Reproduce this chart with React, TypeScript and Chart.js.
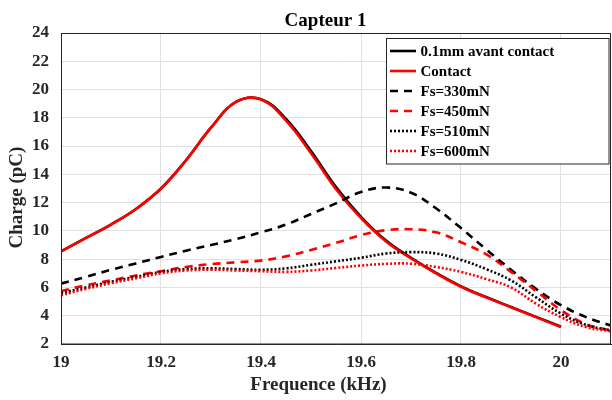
import React, { useEffect, useRef } from "react";
import { Chart, registerables } from "chart.js";

Chart.register(...registerables);

const title = "Capteur 1";
const xTitle = "Frequence (kHz)";
const yTitle = "Charge (pC)";

const seriesLabels = [
  "0.1mm avant contact",
  "Contact",
  "Fs=330mN",
  "Fs=450mN",
  "Fs=510mN",
  "Fs=600mN",
];

// frequencies (kHz) for the two solid curves
const contactFreq = [
  19.0, 19.05, 19.1, 19.15, 19.2, 19.25, 19.3, 19.35, 19.4, 19.45, 19.5,
  19.55, 19.6, 19.65, 19.7, 19.75, 19.8, 19.85, 19.9, 19.95, 20.0,
];
const avantContact = [
  8.55, 9.5, 10.45, 11.55, 13.0, 15.0, 17.3, 19.12, 19.32, 17.92, 15.65,
  13.1, 11.0, 9.32, 8.1, 7.03, 6.08, 5.32, 4.62, 3.92, 3.22,
];
const contact = [
  8.55, 9.5, 10.45, 11.55, 13.0, 15.0, 17.3, 19.12, 19.3, 17.8, 15.5,
  12.95, 10.9, 9.25, 8.05, 7.0, 6.05, 5.3, 4.6, 3.9, 3.2,
];

// frequencies (kHz) for the force curves
const freq = [
  19.0, 19.05, 19.1, 19.15, 19.2, 19.25, 19.3, 19.35, 19.4, 19.45, 19.5, 19.55,
  19.6, 19.65, 19.7, 19.75, 19.8, 19.85, 19.9, 19.95, 20.0, 20.05, 20.1,
];
const fs330 = [
  6.27, 6.75, 7.25, 7.7, 8.16, 8.6, 9.0, 9.42, 9.9, 10.45, 11.2, 11.95, 12.75,
  13.07, 12.7, 11.6, 10.2, 8.7, 7.25, 5.9, 4.75, 3.9, 3.3,
];
const fs450 = [
  5.75, 6.15, 6.5, 6.85, 7.15, 7.45, 7.65, 7.78, 7.9, 8.2, 8.65, 9.15, 9.7,
  10.05, 10.12, 9.9, 9.2, 8.35, 7.1, 5.75, 4.4, 3.4, 2.95,
];
const fs510 = [
  5.6, 6.0, 6.4, 6.75, 7.1, 7.3, 7.35, 7.3, 7.25, 7.35, 7.6, 7.85, 8.1, 8.4,
  8.5, 8.4, 7.95, 7.3, 6.5, 5.3, 4.15, 3.35, 2.95,
];
const fs600 = [
  5.45, 5.9, 6.3, 6.65, 7.0, 7.2, 7.25, 7.2, 7.15, 7.1, 7.2, 7.38, 7.55, 7.67,
  7.68, 7.45, 7.1, 6.6, 6.0, 4.85, 3.9, 3.2, 2.9,
];

const xMin = 19;
const xMax = 20.1;
const yMin = 2;
const yMax = 24;

const FONT = "'Liberation Serif', 'DejaVu Serif', serif";
const AXIS = "#262626";

const pts = (xs: number[], ys: number[]) => xs.map((x, i) => ({ x, y: ys[i] }));

const decorPlugin = {
  id: "decor",
  afterDraw(chart: any) {
    const { ctx, chartArea } = chart;
    const { left, top, right, bottom } = chartArea;
    ctx.save();
    // box
    ctx.strokeStyle = AXIS;
    ctx.lineWidth = 1;
    ctx.setLineDash([]);
    ctx.strokeRect(left + 0.5, top + 0.5, right - left - 1, bottom - top - 0.5);

    // title
    ctx.fillStyle = "#000";
    ctx.font = `bold 19px ${FONT}`;
    ctx.textAlign = "center";
    ctx.textBaseline = "alphabetic";
    ctx.fillText(title, 325.5, 26);

    // x title
    ctx.fillStyle = AXIS;
    ctx.font = `bold 19px ${FONT}`;
    ctx.textBaseline = "middle";
    ctx.fillText(xTitle, 318.5, 385);

    // y title
    ctx.save();
    ctx.translate(17.5, 197.5);
    ctx.rotate(-Math.PI / 2);
    ctx.fillText(yTitle, 0, 0);
    ctx.restore();

    // legend
    const lx = right - 224.5;
    const ly = top + 5.5;
    const lw = 222.5;
    const lh = 125.5;
    ctx.fillStyle = "#fff";
    ctx.fillRect(lx, ly, lw, lh);
    ctx.strokeStyle = AXIS;
    ctx.lineWidth = 1;
    ctx.strokeRect(lx, ly, lw, lh);
    ctx.font = `bold 15px ${FONT}`;
    ctx.textAlign = "left";
    ctx.textBaseline = "middle";
    chart.data.datasets.forEach((ds: any, i: number) => {
      const cy = ly + 12.5 + i * 20;
      ctx.strokeStyle = ds.borderColor;
      ctx.lineWidth = ds.borderWidth;
      ctx.setLineDash(ds.borderDash || []);
      ctx.beginPath();
      ctx.moveTo(lx + 3.5, cy);
      ctx.lineTo(lx + 29.5, cy);
      ctx.stroke();
      ctx.setLineDash([]);
      ctx.fillStyle = "#000";
      ctx.fillText(ds.label, lx + 34, cy + 1);
    });
    ctx.restore();
  },
};

export default function App() {
  const ref = useRef<HTMLCanvasElement | null>(null);
  useEffect(() => {
    if (!ref.current) return;
    Chart.defaults.font.family = FONT;
    const mk = (
      label: string,
      data: { x: number; y: number }[],
      color: string,
      dash: number[],
      width: number,
      order: number
    ) => ({
      label,
      data,
      borderColor: color,
      backgroundColor: color,
      borderDash: dash,
      borderWidth: width,
      pointRadius: 0,
      fill: false,
      tension: 0.4,
      order,
    });
    const chart = new Chart(ref.current, {
      type: "line",
      data: {
        datasets: [
          mk(seriesLabels[0], pts(contactFreq, avantContact), "#000000", [], 2.6, 6),
          mk(seriesLabels[1], pts(contactFreq, contact), "#ff0000", [], 2.6, 5),
          mk(seriesLabels[2], pts(freq, fs330), "#000000", [8, 6], 2.6, 4),
          mk(seriesLabels[3], pts(freq, fs450), "#ff0000", [8, 6], 2.6, 3),
          mk(seriesLabels[4], pts(freq, fs510), "#000000", [2, 2], 2.6, 2),
          mk(seriesLabels[5], pts(freq, fs600), "#ff0000", [2, 2], 2.6, 1),
        ],
      },
      options: {
        animation: false,
        responsive: false,
        maintainAspectRatio: false,
        layout: { padding: { top: 33, left: 0, right: 1, bottom: 0 } },
        plugins: {
          legend: { display: false },
          title: { display: false },
          tooltip: { enabled: false },
        },
        scales: {
          x: {
            type: "linear",
            min: xMin,
            max: xMax,
            afterFit: (s: any) => {
              s.height = 56;
            },
            border: { display: true, color: AXIS, width: 1 },
            grid: { color: "#e0e0e0", drawTicks: false, lineWidth: 1 },
            ticks: {
              stepSize: 0.2,
              includeBounds: false,
              padding: 8,
              color: AXIS,
              font: { size: 17, weight: "bold", family: FONT },
              callback: (v: any) => String(Number(Number(v).toFixed(1))),
            },
          },
          y: {
            type: "linear",
            min: yMin,
            max: yMax,
            afterFit: (s: any) => {
              s.width = 61;
            },
            border: { display: true, color: AXIS, width: 1 },
            grid: { color: "#e0e0e0", drawTicks: false, lineWidth: 1 },
            ticks: {
              stepSize: 2,
              padding: 12,
              color: AXIS,
              font: { size: 17, weight: "bold", family: FONT },
            },
          },
        },
      },
      plugins: [decorPlugin],
    });
    return () => chart.destroy();
  }, []);
  return (
    <div style={{ position: "fixed", left: 0, top: 0, width: 612, height: 400, background: "#fff" }}>
      <canvas ref={ref} width={612} height={400} style={{ width: 612, height: 400 }} />
    </div>
  );
}
